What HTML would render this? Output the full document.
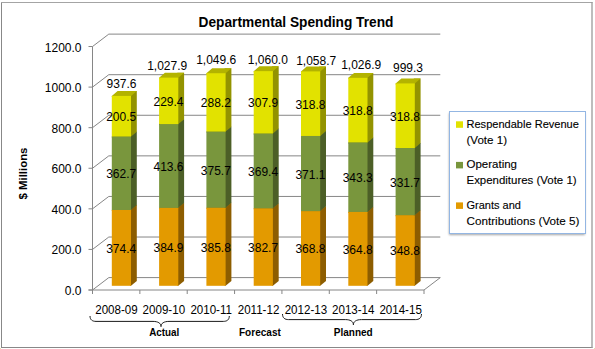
<!DOCTYPE html>
<html><head><meta charset="utf-8"><style>
html,body{margin:0;padding:0;background:#fff;}
svg{display:block;}
text{font-family:"Liberation Sans", sans-serif;fill:#000;stroke:#000;stroke-width:0;}
.title,.grp,.ytitle,.ax,.dl{stroke-width:0;}
.lg{stroke-width:0.12px;}
.dl{font-size:12px;}
.ax{font-size:12px;}
.lg{font-size:11.8px;}
.grp{font-size:10px;font-weight:bold;}
.title{font-size:14px;font-weight:bold;}
.ytitle{font-size:11.4px;font-weight:bold;}
</style></head><body>
<svg width="595" height="349" viewBox="0 0 595 349">
<line x1="1.5" y1="2" x2="1.5" y2="348" stroke="#888" stroke-width="1"/>
<line x1="1" y1="347.5" x2="592.5" y2="347.5" stroke="#888" stroke-width="1"/>
<line x1="1" y1="2.5" x2="592.5" y2="2.5" stroke="#a4a4a4" stroke-width="1"/>
<line x1="592" y1="2" x2="592" y2="348" stroke="#9a9a9a" stroke-width="1.3"/>
<rect x="0" y="348" width="1" height="1" fill="#e4e4a8"/>
<rect x="594" y="348" width="1" height="1" fill="#e4e4a8"/>
<path d="M92.5 290.00 L108.80 277.60 L440.30 277.60" fill="none" stroke="#868686" stroke-width="1"/>
<line x1="88.5" y1="290.00" x2="92.5" y2="290.00" stroke="#868686" stroke-width="1"/>
<path d="M92.5 249.42 L108.80 237.02 L440.30 237.02" fill="none" stroke="#868686" stroke-width="1"/>
<line x1="88.5" y1="249.42" x2="92.5" y2="249.42" stroke="#868686" stroke-width="1"/>
<path d="M92.5 208.84 L108.80 196.44 L440.30 196.44" fill="none" stroke="#868686" stroke-width="1"/>
<line x1="88.5" y1="208.84" x2="92.5" y2="208.84" stroke="#868686" stroke-width="1"/>
<path d="M92.5 168.26 L108.80 155.86 L440.30 155.86" fill="none" stroke="#868686" stroke-width="1"/>
<line x1="88.5" y1="168.26" x2="92.5" y2="168.26" stroke="#868686" stroke-width="1"/>
<path d="M92.5 127.68 L108.80 115.28 L440.30 115.28" fill="none" stroke="#868686" stroke-width="1"/>
<line x1="88.5" y1="127.68" x2="92.5" y2="127.68" stroke="#868686" stroke-width="1"/>
<path d="M92.5 87.10 L108.80 74.70 L440.30 74.70" fill="none" stroke="#868686" stroke-width="1"/>
<line x1="88.5" y1="87.10" x2="92.5" y2="87.10" stroke="#868686" stroke-width="1"/>
<path d="M92.5 46.52 L108.80 34.12 L440.30 34.12" fill="none" stroke="#868686" stroke-width="1"/>
<line x1="88.5" y1="46.52" x2="92.5" y2="46.52" stroke="#868686" stroke-width="1"/>
<line x1="92.5" y1="46.52" x2="92.5" y2="294.0" stroke="#868686" stroke-width="1"/>
<path d="M88.5 290.0 L424.0 290.0 L440.30 277.60" fill="none" stroke="#868686" stroke-width="1"/>
<line x1="92.50" y1="290.0" x2="92.50" y2="294.0" stroke="#868686" stroke-width="1"/>
<line x1="139.86" y1="290.0" x2="139.86" y2="294.0" stroke="#868686" stroke-width="1"/>
<line x1="187.21" y1="290.0" x2="187.21" y2="294.0" stroke="#868686" stroke-width="1"/>
<line x1="234.57" y1="290.0" x2="234.57" y2="294.0" stroke="#868686" stroke-width="1"/>
<line x1="281.93" y1="290.0" x2="281.93" y2="294.0" stroke="#868686" stroke-width="1"/>
<line x1="329.29" y1="290.0" x2="329.29" y2="294.0" stroke="#868686" stroke-width="1"/>
<line x1="376.64" y1="290.0" x2="376.64" y2="294.0" stroke="#868686" stroke-width="1"/>
<line x1="424.00" y1="290.0" x2="424.00" y2="294.0" stroke="#868686" stroke-width="1"/>
<path d="M130.00 285.80 L131.00 285.80 L136.80 280.90 L136.80 205.08 L130.00 205.08Z" fill="#8d5d00"/>
<path d="M111.80 210.98 L111.80 209.98 L117.60 205.08 L136.80 205.08 L131.00 209.98 L131.00 210.98Z" fill="#b87c00"/>
<rect x="111.80" y="209.98" width="19.20" height="75.82" fill="#e39a00"/>
<path d="M130.00 209.98 L131.00 209.98 L136.80 205.08 L136.80 131.64 L130.00 131.64Z" fill="#4c5f27"/>
<path d="M111.80 137.54 L111.80 136.54 L117.60 131.64 L136.80 131.64 L131.00 136.54 L131.00 137.54Z" fill="#5f7630"/>
<rect x="111.80" y="136.54" width="19.20" height="73.45" fill="#79963d"/>
<path d="M130.00 136.54 L131.00 136.54 L136.80 131.64 L136.80 91.04 L130.00 91.04Z" fill="#939300"/>
<path d="M111.80 96.94 L111.80 95.94 L117.60 91.04 L136.80 91.04 L131.00 95.94 L131.00 96.94Z" fill="#b3b300"/>
<rect x="111.80" y="95.94" width="19.20" height="40.60" fill="#e2e200"/>
<path d="M177.30 285.80 L178.30 285.80 L184.10 280.90 L184.10 202.96 L177.30 202.96Z" fill="#8d5d00"/>
<path d="M159.10 208.86 L159.10 207.86 L164.90 202.96 L184.10 202.96 L178.30 207.86 L178.30 208.86Z" fill="#b87c00"/>
<rect x="159.10" y="207.86" width="19.20" height="77.94" fill="#e39a00"/>
<path d="M177.30 207.86 L178.30 207.86 L184.10 202.96 L184.10 119.20 L177.30 119.20Z" fill="#4c5f27"/>
<path d="M159.10 125.10 L159.10 124.10 L164.90 119.20 L184.10 119.20 L178.30 124.10 L178.30 125.10Z" fill="#5f7630"/>
<rect x="159.10" y="124.10" width="19.20" height="83.75" fill="#79963d"/>
<path d="M177.30 124.10 L178.30 124.10 L184.10 119.20 L184.10 72.75 L177.30 72.75Z" fill="#939300"/>
<path d="M159.10 78.65 L159.10 77.65 L164.90 72.75 L184.10 72.75 L178.30 77.65 L178.30 78.65Z" fill="#b3b300"/>
<rect x="159.10" y="77.65" width="19.20" height="46.45" fill="#e2e200"/>
<path d="M224.60 285.80 L225.60 285.80 L231.40 280.90 L231.40 202.78 L224.60 202.78Z" fill="#8d5d00"/>
<path d="M206.40 208.68 L206.40 207.68 L212.20 202.78 L231.40 202.78 L225.60 207.68 L225.60 208.68Z" fill="#b87c00"/>
<rect x="206.40" y="207.68" width="19.20" height="78.12" fill="#e39a00"/>
<path d="M224.60 207.68 L225.60 207.68 L231.40 202.78 L231.40 126.70 L224.60 126.70Z" fill="#4c5f27"/>
<path d="M206.40 132.60 L206.40 131.60 L212.20 126.70 L231.40 126.70 L225.60 131.60 L225.60 132.60Z" fill="#5f7630"/>
<rect x="206.40" y="131.60" width="19.20" height="76.08" fill="#79963d"/>
<path d="M224.60 131.60 L225.60 131.60 L231.40 126.70 L231.40 68.34 L224.60 68.34Z" fill="#939300"/>
<path d="M206.40 74.24 L206.40 73.24 L212.20 68.34 L231.40 68.34 L225.60 73.24 L225.60 74.24Z" fill="#b3b300"/>
<rect x="206.40" y="73.24" width="19.20" height="58.36" fill="#e2e200"/>
<path d="M271.90 285.80 L272.90 285.80 L278.70 280.90 L278.70 203.40 L271.90 203.40Z" fill="#8d5d00"/>
<path d="M253.70 209.30 L253.70 208.30 L259.50 203.40 L278.70 203.40 L272.90 208.30 L272.90 209.30Z" fill="#b87c00"/>
<rect x="253.70" y="208.30" width="19.20" height="77.50" fill="#e39a00"/>
<path d="M271.90 208.30 L272.90 208.30 L278.70 203.40 L278.70 128.60 L271.90 128.60Z" fill="#4c5f27"/>
<path d="M253.70 134.50 L253.70 133.50 L259.50 128.60 L278.70 128.60 L272.90 133.50 L272.90 134.50Z" fill="#5f7630"/>
<rect x="253.70" y="133.50" width="19.20" height="74.80" fill="#79963d"/>
<path d="M271.90 133.50 L272.90 133.50 L278.70 128.60 L278.70 66.25 L271.90 66.25Z" fill="#939300"/>
<path d="M253.70 72.15 L253.70 71.15 L259.50 66.25 L278.70 66.25 L272.90 71.15 L272.90 72.15Z" fill="#b3b300"/>
<rect x="253.70" y="71.15" width="19.20" height="62.35" fill="#e2e200"/>
<path d="M319.20 285.80 L320.20 285.80 L326.00 280.90 L326.00 206.22 L319.20 206.22Z" fill="#8d5d00"/>
<path d="M301.00 212.12 L301.00 211.12 L306.80 206.22 L326.00 206.22 L320.20 211.12 L320.20 212.12Z" fill="#b87c00"/>
<rect x="301.00" y="211.12" width="19.20" height="74.68" fill="#e39a00"/>
<path d="M319.20 211.12 L320.20 211.12 L326.00 206.22 L326.00 131.07 L319.20 131.07Z" fill="#4c5f27"/>
<path d="M301.00 136.97 L301.00 135.97 L306.80 131.07 L326.00 131.07 L320.20 135.97 L320.20 136.97Z" fill="#5f7630"/>
<rect x="301.00" y="135.97" width="19.20" height="75.15" fill="#79963d"/>
<path d="M319.20 135.97 L320.20 135.97 L326.00 131.07 L326.00 66.51 L319.20 66.51Z" fill="#939300"/>
<path d="M301.00 72.41 L301.00 71.41 L306.80 66.51 L326.00 66.51 L320.20 71.41 L320.20 72.41Z" fill="#b3b300"/>
<rect x="301.00" y="71.41" width="19.20" height="64.56" fill="#e2e200"/>
<path d="M366.50 285.80 L367.50 285.80 L373.30 280.90 L373.30 207.03 L366.50 207.03Z" fill="#8d5d00"/>
<path d="M348.30 212.93 L348.30 211.93 L354.10 207.03 L373.30 207.03 L367.50 211.93 L367.50 212.93Z" fill="#b87c00"/>
<rect x="348.30" y="211.93" width="19.20" height="73.87" fill="#e39a00"/>
<path d="M366.50 211.93 L367.50 211.93 L373.30 207.03 L373.30 137.51 L366.50 137.51Z" fill="#4c5f27"/>
<path d="M348.30 143.41 L348.30 142.41 L354.10 137.51 L373.30 137.51 L367.50 142.41 L367.50 143.41Z" fill="#5f7630"/>
<rect x="348.30" y="142.41" width="19.20" height="69.52" fill="#79963d"/>
<path d="M366.50 142.41 L367.50 142.41 L373.30 137.51 L373.30 72.95 L366.50 72.95Z" fill="#939300"/>
<path d="M348.30 78.85 L348.30 77.85 L354.10 72.95 L373.30 72.95 L367.50 77.85 L367.50 78.85Z" fill="#b3b300"/>
<rect x="348.30" y="77.85" width="19.20" height="64.56" fill="#e2e200"/>
<path d="M413.80 285.80 L414.80 285.80 L420.60 280.90 L420.60 210.27 L413.80 210.27Z" fill="#8d5d00"/>
<path d="M395.60 216.17 L395.60 215.17 L401.40 210.27 L420.60 210.27 L414.80 215.17 L414.80 216.17Z" fill="#b87c00"/>
<rect x="395.60" y="215.17" width="19.20" height="70.63" fill="#e39a00"/>
<path d="M413.80 215.17 L414.80 215.17 L420.60 210.27 L420.60 143.10 L413.80 143.10Z" fill="#4c5f27"/>
<path d="M395.60 149.00 L395.60 148.00 L401.40 143.10 L420.60 143.10 L414.80 148.00 L414.80 149.00Z" fill="#5f7630"/>
<rect x="395.60" y="148.00" width="19.20" height="67.17" fill="#79963d"/>
<path d="M413.80 148.00 L414.80 148.00 L420.60 143.10 L420.60 78.54 L413.80 78.54Z" fill="#939300"/>
<path d="M395.60 84.44 L395.60 83.44 L401.40 78.54 L420.60 78.54 L414.80 83.44 L414.80 84.44Z" fill="#b3b300"/>
<rect x="395.60" y="83.44" width="19.20" height="64.56" fill="#e2e200"/>
<text x="121.20" y="252.89" text-anchor="middle" class="dl">374.4</text>
<text x="121.20" y="178.26" text-anchor="middle" class="dl">362.7</text>
<text x="121.20" y="121.24" text-anchor="middle" class="dl">200.5</text>
<text x="121.50" y="88.30" text-anchor="middle" class="dl">937.6</text>
<text x="168.50" y="251.83" text-anchor="middle" class="dl">384.9</text>
<text x="168.50" y="170.98" text-anchor="middle" class="dl">413.6</text>
<text x="168.50" y="105.88" text-anchor="middle" class="dl">229.4</text>
<text x="167.15" y="70.00" text-anchor="middle" class="dl">1,027.9</text>
<text x="215.80" y="251.74" text-anchor="middle" class="dl">385.8</text>
<text x="215.80" y="174.64" text-anchor="middle" class="dl">375.7</text>
<text x="215.80" y="107.42" text-anchor="middle" class="dl">288.2</text>
<text x="216.15" y="63.90" text-anchor="middle" class="dl">1,049.6</text>
<text x="263.10" y="252.05" text-anchor="middle" class="dl">382.7</text>
<text x="263.10" y="175.90" text-anchor="middle" class="dl">369.4</text>
<text x="263.10" y="107.32" text-anchor="middle" class="dl">307.9</text>
<text x="267.85" y="63.90" text-anchor="middle" class="dl">1,060.0</text>
<text x="310.40" y="253.46" text-anchor="middle" class="dl">368.8</text>
<text x="310.40" y="178.54" text-anchor="middle" class="dl">371.1</text>
<text x="310.40" y="108.69" text-anchor="middle" class="dl">318.8</text>
<text x="316.20" y="65.20" text-anchor="middle" class="dl">1,058.7</text>
<text x="357.70" y="253.86" text-anchor="middle" class="dl">364.8</text>
<text x="357.70" y="182.17" text-anchor="middle" class="dl">343.3</text>
<text x="357.70" y="115.13" text-anchor="middle" class="dl">318.8</text>
<text x="361.15" y="68.70" text-anchor="middle" class="dl">1,026.9</text>
<text x="405.00" y="255.48" text-anchor="middle" class="dl">348.8</text>
<text x="405.00" y="186.58" text-anchor="middle" class="dl">331.7</text>
<text x="405.00" y="120.72" text-anchor="middle" class="dl">318.8</text>
<text x="408.00" y="71.80" text-anchor="middle" class="dl">999.3</text>
<text x="81.5" y="295.00" text-anchor="end" class="ax">0.0</text>
<text x="81.5" y="254.42" text-anchor="end" class="ax">200.0</text>
<text x="81.5" y="213.84" text-anchor="end" class="ax">400.0</text>
<text x="81.5" y="173.26" text-anchor="end" class="ax">600.0</text>
<text x="81.5" y="132.68" text-anchor="end" class="ax">800.0</text>
<text x="81.5" y="92.10" text-anchor="end" class="ax">1000.0</text>
<text x="81.5" y="51.52" text-anchor="end" class="ax">1200.0</text>
<text transform="translate(116.48 313.8) scale(0.965 1)" text-anchor="middle" class="ax">2008-09</text>
<text transform="translate(163.84 313.8) scale(0.965 1)" text-anchor="middle" class="ax">2009-10</text>
<text transform="translate(211.19 313.8) scale(0.965 1)" text-anchor="middle" class="ax">2010-11</text>
<text transform="translate(258.55 313.8) scale(0.965 1)" text-anchor="middle" class="ax">2011-12</text>
<text transform="translate(305.91 313.8) scale(0.965 1)" text-anchor="middle" class="ax">2012-13</text>
<text transform="translate(353.26 313.8) scale(0.965 1)" text-anchor="middle" class="ax">2013-14</text>
<text transform="translate(400.62 313.8) scale(0.965 1)" text-anchor="middle" class="ax">2014-15</text>
<path d="M90.0 316.0 C90.0 319.9 92.5 321.4 96.0 321.4 L153.0 321.4 C158.0 321.4 161.0 323.2 161.0 326.6 C161.0 323.2 164.0 321.4 169.0 321.4 L223.3 321.4 C226.8 321.4 229.3 319.9 229.3 316.0" fill="none" stroke="#1a1a1a" stroke-width="1"/>
<path d="M282.5 314.0 C282.5 318.1 285.0 319.6 288.5 319.6 L345.4 319.6 C350.4 319.6 353.4 321.40000000000003 353.4 324.8 C353.4 321.40000000000003 356.4 319.6 361.4 319.6 L415.5 319.6 C419.0 319.6 421.5 318.1 421.5 314.0" fill="none" stroke="#1a1a1a" stroke-width="1"/>
<text x="149.2" y="335.8" class="grp" textLength="30.1" lengthAdjust="spacingAndGlyphs">Actual</text>
<text x="239.0" y="335.9" class="grp" textLength="41.8" lengthAdjust="spacingAndGlyphs">Forecast</text>
<text x="333.8" y="335.9" class="grp" textLength="38.9" lengthAdjust="spacingAndGlyphs">Planned</text>
<text x="198.6" y="27.4" class="title" textLength="194.8" lengthAdjust="spacingAndGlyphs">Departmental Spending Trend</text>
<text transform="translate(27.0 173.5) rotate(-90)" text-anchor="middle" class="ytitle">$ Millions</text>
<defs><filter id="sh" x="-10%" y="-10%" width="120%" height="120%"><feGaussianBlur stdDeviation="1.2"/></filter></defs>
<rect x="449" y="113" width="136" height="122" fill="#000" opacity="0.35" filter="url(#sh)"/>
<rect x="449.5" y="111.5" width="136" height="122" fill="#fff" stroke="#93b6e3" stroke-width="1"/>
<rect x="456" y="121.3" width="7" height="6.5" fill="#e2e200"/>
<text x="466.5" y="127.8" class="lg" textLength="112.4" lengthAdjust="spacingAndGlyphs">Respendable Revenue</text>
<text x="466.5" y="143.7" class="lg" textLength="40.5" lengthAdjust="spacingAndGlyphs">(Vote 1)</text>
<rect x="456" y="161.9" width="7" height="6.5" fill="#79963d"/>
<text x="466.5" y="168.4" class="lg" textLength="50.5" lengthAdjust="spacingAndGlyphs">Operating</text>
<text x="466.5" y="184.3" class="lg" textLength="110.1" lengthAdjust="spacingAndGlyphs">Expenditures (Vote 1)</text>
<rect x="456" y="202.4" width="7" height="6.5" fill="#e39a00"/>
<text x="466.5" y="208.9" class="lg" textLength="54.5" lengthAdjust="spacingAndGlyphs">Grants and</text>
<text x="466.5" y="224.8" class="lg" textLength="112.9" lengthAdjust="spacingAndGlyphs">Contributions (Vote 5)</text>
</svg></body></html>
